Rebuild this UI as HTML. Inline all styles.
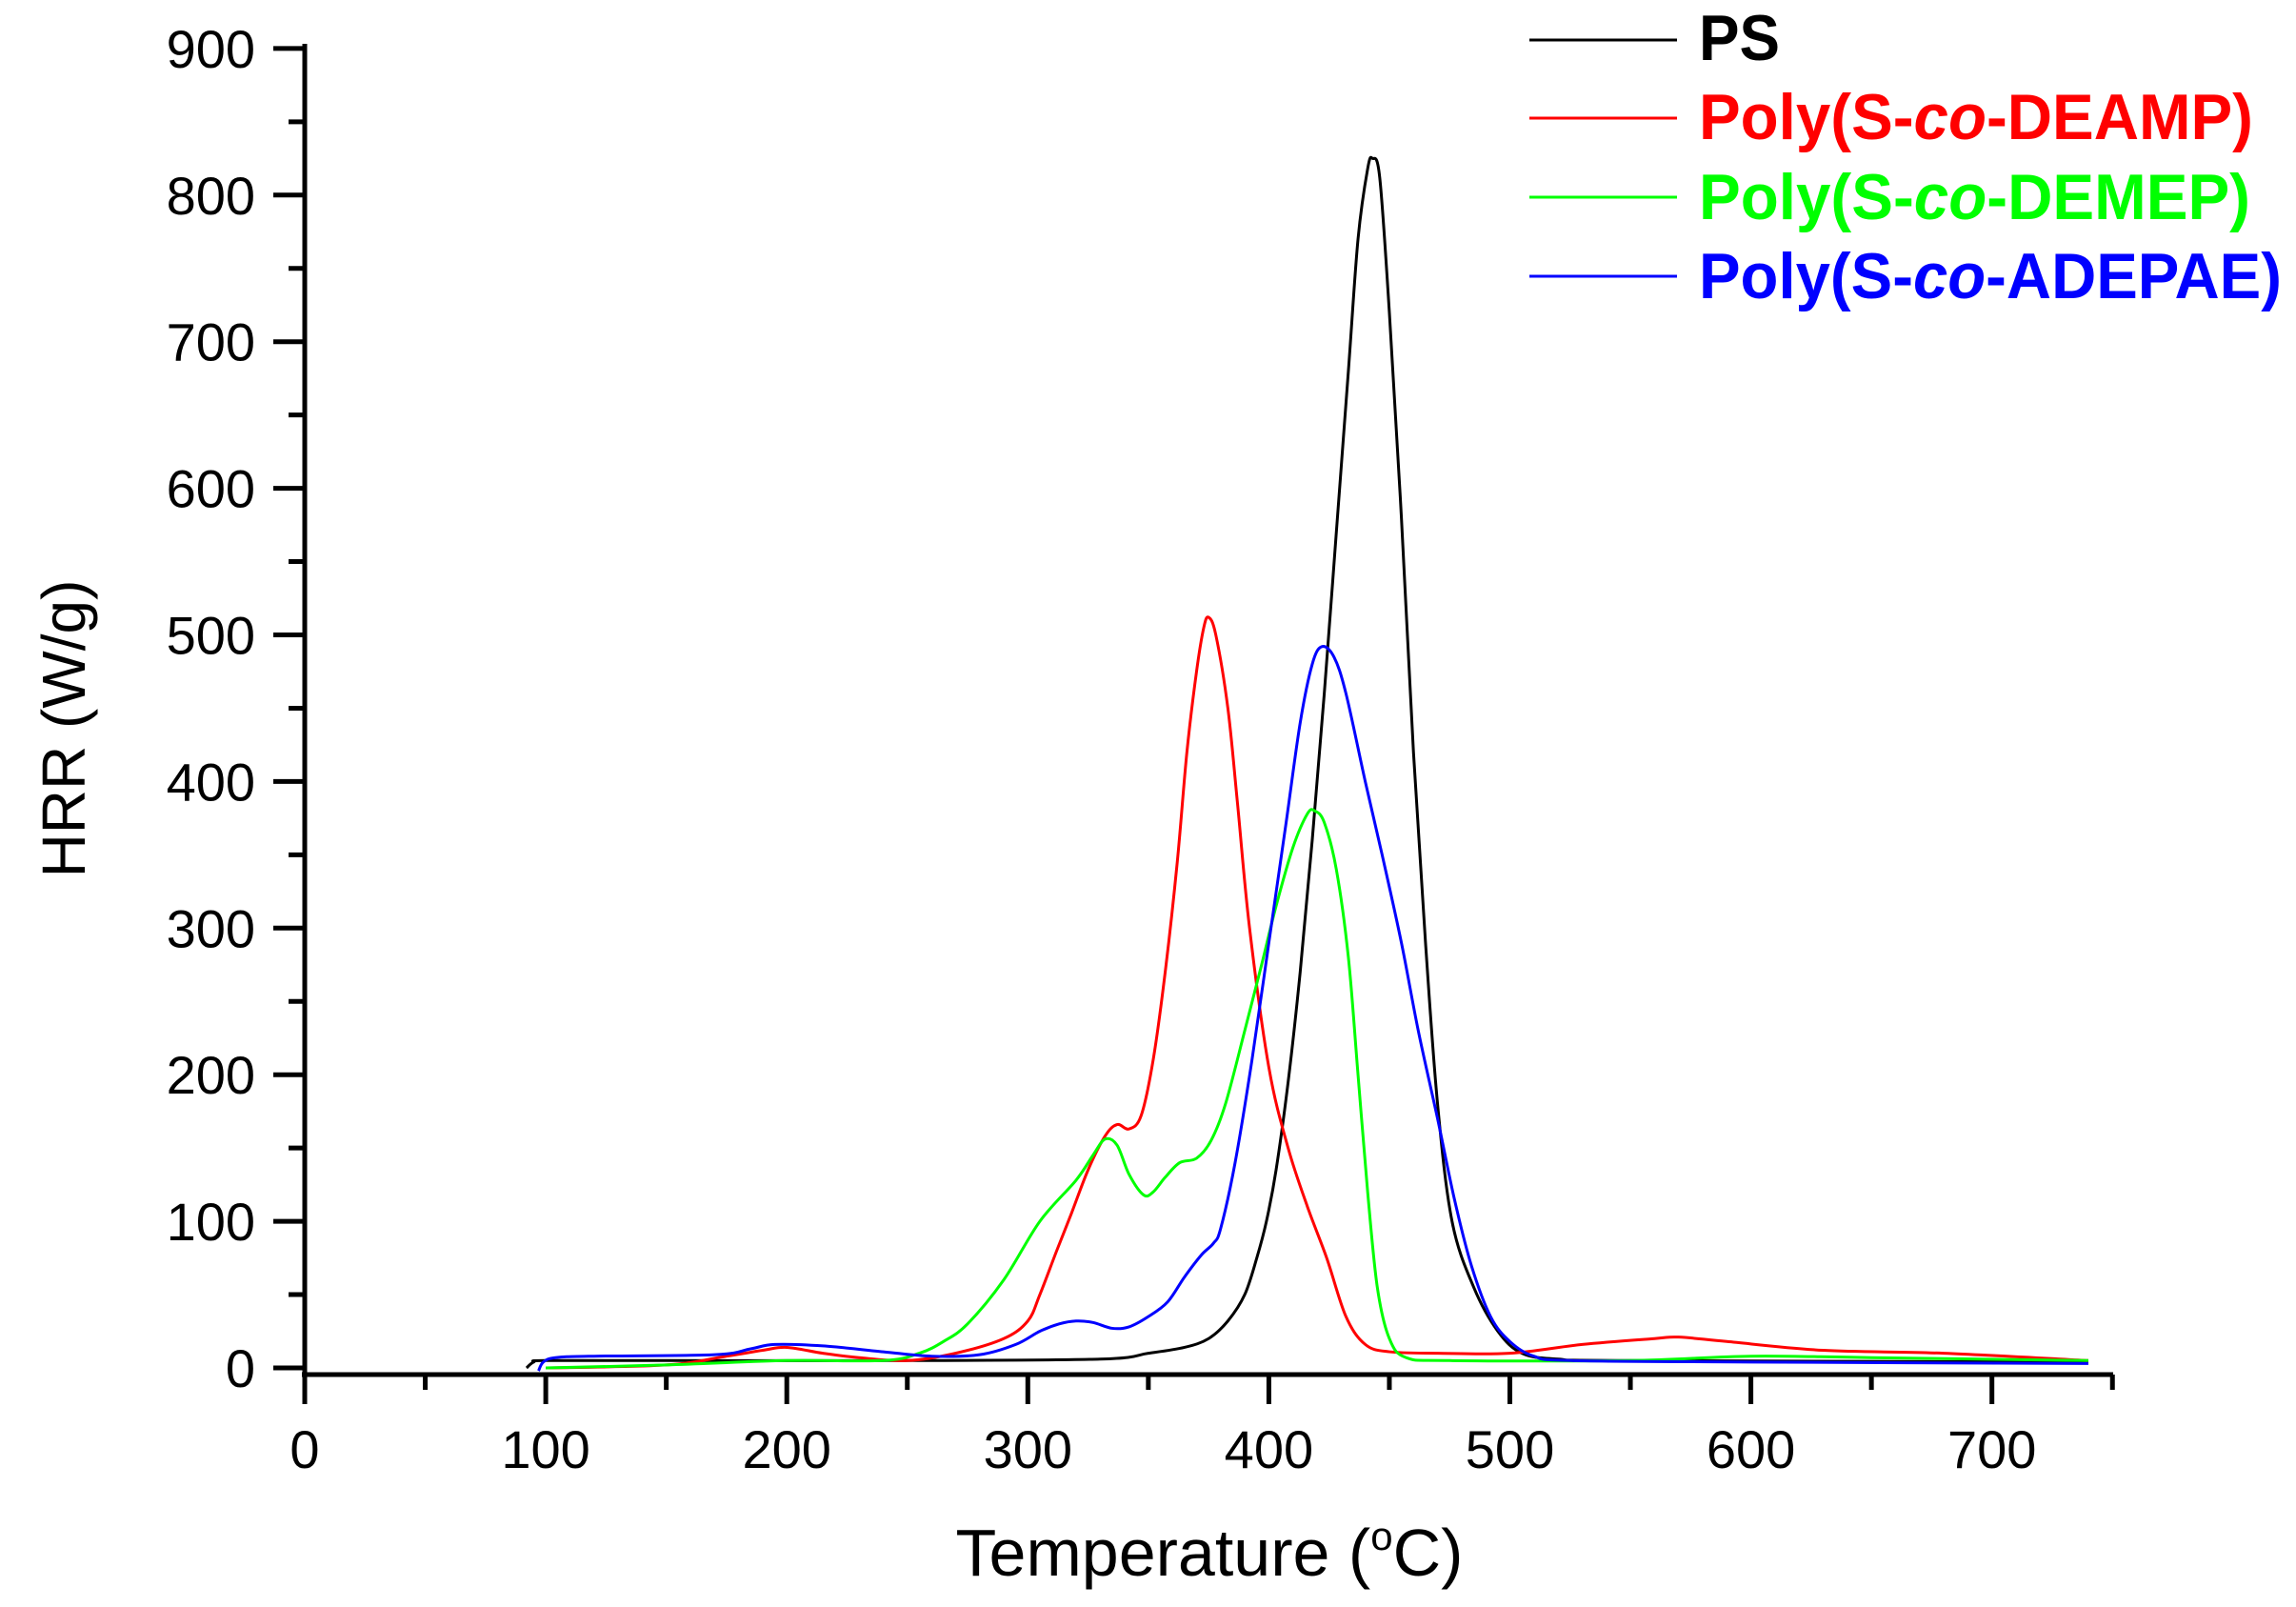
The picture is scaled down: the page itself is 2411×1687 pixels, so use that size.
<!DOCTYPE html>
<html><head><meta charset="utf-8"><style>
html,body{margin:0;padding:0;background:#fff;}
svg{display:block;}
text{font-family:"Liberation Sans",Arial,sans-serif;}
</style></head><body>
<svg id="s" width="2411" height="1687" viewBox="0 0 2411 1687" xmlns="http://www.w3.org/2000/svg">
<g id="axes" stroke="#000" stroke-width="5" fill="none"></g>
<g id="lbl" font-size="56" fill="#000"></g>
<text x="72" y="765" font-size="64" text-anchor="middle" transform="rotate(-90 72 765)" dominant-baseline="middle">HRR (W/g)</text>
<text x="1270" y="1654" font-size="70" text-anchor="middle">Temperature (<tspan font-size="42" dy="-27">o</tspan><tspan dy="27">C)</tspan></text>
<g id="curves" fill="none" stroke-width="3" stroke-linejoin="round"></g>
<g font-weight="bold" font-size="68">
<line x1="1606" y1="42" x2="1761" y2="42" stroke="#000" stroke-width="3"/>
<line x1="1606" y1="124" x2="1761" y2="124" stroke="#f00" stroke-width="3"/>
<line x1="1606" y1="207" x2="1761" y2="207" stroke="#0f0" stroke-width="3"/>
<line x1="1606" y1="290" x2="1761" y2="290" stroke="#00f" stroke-width="3"/>
<text x="1784" y="63" fill="#000" textLength="85" lengthAdjust="spacingAndGlyphs">PS</text>
<text x="1784" y="146" fill="#f00" textLength="582" lengthAdjust="spacingAndGlyphs">Poly(S-<tspan font-style="italic">co</tspan>-DEAMP)</text>
<text x="1784" y="230" fill="#0f0" textLength="579" lengthAdjust="spacingAndGlyphs">Poly(S-<tspan font-style="italic">co</tspan>-DEMEP)</text>
<text x="1784" y="313" fill="#00f" textLength="612" lengthAdjust="spacingAndGlyphs">Poly(S-<tspan font-style="italic">co</tspan>-ADEPAE)</text>
</g>
</svg>
<script>
var NS="http://www.w3.org/2000/svg";
function X(t){return 320+t*2.531;}
function Y(v){return 1436-v*1.539;}
function el(p,n,a){var e=document.createElementNS(NS,n);for(var k in a)e.setAttribute(k,a[k]);p.appendChild(e);return e;}
var ax=document.getElementById('axes'),lb=document.getElementById('lbl');
el(ax,'line',{x1:320,y1:46,x2:320,y2:1446});
el(ax,'line',{x1:317,y1:1443,x2:2219,y2:1443});
for(var t=0;t<=750;t+=50){var maj=t%100==0;el(ax,'line',{x1:X(t),y1:1443,x2:X(t),y2:maj?1474:1459});
 if(maj&&t<=700){var e=el(lb,'text',{x:X(t),y:1541,'text-anchor':'middle'});e.textContent=t;}}
for(var v=0;v<=900;v+=50){var maj=v%100==0;el(ax,'line',{x1:320,y1:Y(v),x2:maj?287:303,y2:Y(v)});
 if(maj){var e=el(lb,'text',{x:268,y:Y(v)+20,'text-anchor':'end'});e.textContent=v;}}
var data={
"#000":[[92,0],[95,4],[100,5],[150,5],[250,5],[330,6],[350,10],[365,14],[375,20],[383,32],[390,50],[395,75],[399,100],[403,135],[408,195],[413,270],[418,360],[423,460],[428,570],[433,680],[437,770],[441,818],[443,825],[446,812],[450,720],[455,580],[460,420],[465,290],[470,180],[476,100],[485,55],[495,25],[505,10],[520,6],[550,5],[740,4]],
"#f00":[[100,0],[150,2],[175,8],[190,12],[200,14],[215,10],[230,7],[250,5],[270,10],[290,20],[300,32],[305,50],[312,80],[318,105],[325,135],[332,158],[337,166],[342,163],[347,172],[352,210],[357,270],[362,345],[366,420],[370,475],[373,505],[375,512],[378,500],[383,450],[387,385],[392,300],[400,205],[408,150],[416,110],[424,75],[432,35],[440,16],[450,11],[470,10],[500,10],[530,16],[560,20],[570,21],[590,18],[630,12],[680,10],[740,5]],
"#0f0":[[100,0],[150,2],[200,5],[240,5],[255,10],[265,18],[275,30],[290,60],[305,100],[320,128],[327,145],[332,156],[337,152],[342,132],[348,118],[352,120],[357,130],[363,140],[370,143],[376,155],[382,180],[390,230],[397,275],[403,315],[410,355],[416,378],[419,380],[423,372],[428,340],[433,280],[437,200],[441,120],[445,55],[450,20],[457,7],[475,5],[550,5],[600,8],[650,7],[740,5]],
"#00f":[[97,-2],[99,4],[104,7],[120,8],[170,9],[185,13],[195,16],[215,15],[240,11],[260,8],[280,9],[295,16],[305,25],[313,30],[320,32],[327,31],[335,27],[342,28],[350,35],[358,45],[365,62],[372,77],[377,85],[380,95],[386,140],[393,210],[400,290],[407,370],[413,440],[418,480],[422,492],[427,485],[432,460],[440,400],[447,350],[455,290],[462,230],[470,170],[477,115],[484,70],[492,35],[500,18],[510,8],[525,5],[600,4],[740,3]]
};
var cg=document.getElementById('curves');
for(var c in data){var p=data[c].map(function(q){return[X(q[0]),Y(q[1])];});
 var d="M"+p[0][0].toFixed(1)+","+p[0][1].toFixed(1);
 for(var i=0;i<p.length-1;i++){var p0=p[i-1]||p[i],p1=p[i],p2=p[i+1],p3=p[i+2]||p2;
  var c1=[p1[0]+(p2[0]-p0[0])/6,p1[1]+(p2[1]-p0[1])/6],c2=[p2[0]-(p3[0]-p1[0])/6,p2[1]-(p3[1]-p1[1])/6];
  d+="C"+c1.join(",")+" "+c2.join(",")+" "+p2.join(",");}
 el(cg,'path',{d:d,stroke:c});}
</script>
</body></html>
